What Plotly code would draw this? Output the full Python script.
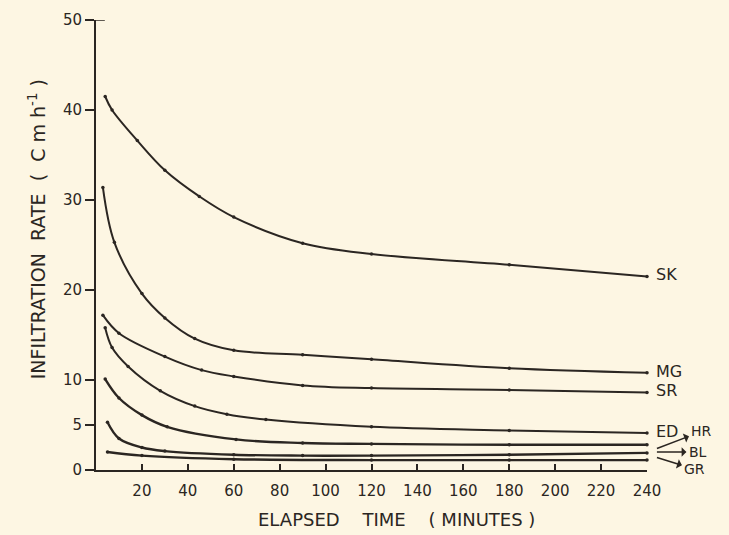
import plotly.graph_objects as go

# ---- data ----
sk_t = [4, 7, 18, 30, 45, 60, 90, 120, 180, 240]
sk_v = [41.5, 40.0, 36.6, 33.3, 30.4, 28.1, 25.2, 24.0, 22.8, 21.5]

mg_t = [3, 8, 20, 30, 43, 60, 90, 120, 180, 240]
mg_v = [31.4, 25.3, 19.6, 16.9, 14.6, 13.3, 12.8, 12.3, 11.3, 10.8]

sr_t = [3, 10, 30, 46, 60, 90, 120, 180, 240]
sr_v = [17.2, 15.2, 12.6, 11.1, 10.4, 9.4, 9.1, 8.9, 8.6]

ed_t = [4, 7, 14, 28, 43, 57, 74, 120, 180, 240]
ed_v = [15.8, 13.6, 11.5, 8.8, 7.1, 6.2, 5.6, 4.8, 4.4, 4.1]

hr_t = [4, 10, 20, 31, 61, 90, 120, 180, 240]
hr_v = [10.1, 8.0, 6.1, 4.8, 3.4, 3.0, 2.9, 2.8, 2.8]

bl_t = [5, 10, 20, 30, 60, 90, 120, 180, 240]
bl_v = [5.3, 3.5, 2.5, 2.1, 1.7, 1.6, 1.6, 1.7, 1.9]

gr_t = [5, 20, 60, 120, 180, 240]
gr_v = [2.0, 1.6, 1.2, 1.1, 1.1, 1.1]

series = [
    ("SK", sk_t, sk_v),
    ("MG", mg_t, mg_v),
    ("SR", sr_t, sr_v),
    ("ED", ed_t, ed_v),
    ("HR", hr_t, hr_v),
    ("BL", bl_t, bl_v),
    ("GR", gr_t, gr_v),
]

x_ticks = [20, 40, 60, 80, 100, 120, 140, 160, 180, 200, 220, 240]
y_ticks = [0, 5, 10, 20, 30, 40, 50]

INK = "#2b2622"
BG = "#fdf6e3"
FONT = "DejaVu Sans"
X_MAX = 240

fig = go.Figure()
for name, t, v in series:
    fig.add_trace(go.Scatter(
        x=t, y=v, mode="lines+markers", name=name,
        line=dict(color=INK, width=2 if name in ("SK", "MG", "SR", "ED") else 2.4,
                  shape="spline", smoothing=1.0),
        marker=dict(color=INK, size=3.5),
        cliponaxis=False, showlegend=False,
    ))

annotations = []
# right-hand labels for the upper curves, at line ends
for name, t, v in series[:4]:
    annotations.append(dict(
        x=1.012, y=v[-1] + 0.2, xref="paper", yref="y", text=name,
        showarrow=False, xanchor="left", yanchor="middle",
        font=dict(family=FONT, size=16, color=INK),
    ))

# arrowed labels for the bottom bundle: arrow runs from the line end to the label
bundle = [("HR", hr_v[-1] - 0.4, 45, -17), ("BL", bl_v[-1] + 0.1, 41, 0), ("GR", gr_v[-1] + 0.3, 38, 12)]
for name, yend, dx, dy in bundle:
    annotations.append(dict(
        x=1.018, y=yend, xref="paper", yref="y", axref="pixel", ayref="pixel",
        ax=dx, ay=dy, text=name, showarrow=True, arrowside="start",
        arrowhead=2, arrowsize=1, arrowwidth=1.6, arrowcolor=INK, standoff=0, startstandoff=1,
        font=dict(family=FONT, size=14, color=INK),
    ))

# axis titles
annotations.append(dict(
    x=-0.107, y=0.535, xref="paper", yref="paper", textangle=-90,
    text="INFILTRATION  RATE  (  C m h<sup>-1</sup> )", showarrow=False,
    xanchor="center", yanchor="middle",
    font=dict(family=FONT, size=19, color=INK),
))
annotations.append(dict(
    x=0.545, y=-0.11, xref="paper", yref="paper",
    text="ELAPSED    TIME    ( MINUTES )", showarrow=False,
    xanchor="center", yanchor="middle",
    font=dict(family=FONT, size=18, color=INK),
))

fig.update_layout(
    width=729, height=535,
    margin=dict(l=96, r=82, t=11, b=65),
    paper_bgcolor=BG, plot_bgcolor=BG,
    annotations=annotations,
    shapes=[dict(type="line", xref="paper", yref="y", x0=0, x1=0.016, y0=50, y1=50,
                 line=dict(color=INK, width=1.5))],
    xaxis=dict(
        range=[0, X_MAX], tickvals=x_ticks, ticktext=[str(v) for v in x_ticks],
        showline=True, linecolor=INK, linewidth=2, ticks="inside",
        ticklen=6, tickwidth=1.5, tickcolor=INK, showgrid=False, zeroline=False,
        ticklabelstandoff=6, ticklabeloverflow="allow",
        tickfont=dict(family=FONT, size=15, color=INK),
    ),
    yaxis=dict(
        range=[0, 50], tickvals=y_ticks, ticktext=[str(v) for v in y_ticks],
        showline=True, linecolor=INK, linewidth=2, ticks="outside",
        ticklen=9, tickwidth=1.5, tickcolor=INK, showgrid=False, zeroline=False,
        ticklabeloverflow="allow",
        tickfont=dict(family=FONT, size=15, color=INK),
    ),
)

fig.write_html("out.html")
